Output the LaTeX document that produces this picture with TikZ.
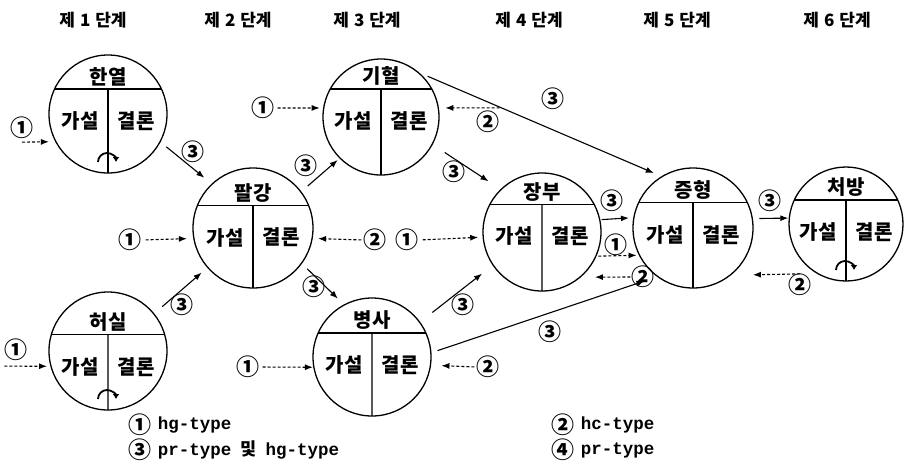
\documentclass[tikz,border=0pt]{standalone}
\usepackage{fontspec}
\setmainfont{Noto Sans CJK KR}
\newfontfamily\typefont{Liberation Mono}
\usetikzlibrary{shapes,arrows.meta,calc,positioning}

\tikzset{
  stage/.style={circle,draw,line width=1.3pt,inner sep=0pt,outer sep=0pt},
  ttl/.style={inner sep=0pt,font=\bfseries\fontsize{20}{20}\selectfont},
  steplbl/.style={inner sep=0pt,font=\bfseries\fontsize{17}{17}\selectfont},
  num/.style={inner sep=0pt,font=\bfseries\fontsize{23}{23}\selectfont},
  key/.style={inner sep=0pt,font=\bfseries\fontsize{17.5}{17.5}\selectfont},
  arr/.style={line width=1.1pt,-{Latex[length=8pt,width=6pt]}},
  darr/.style={arr,dash pattern=on 3pt off 2pt},
  curl/.style={line width=1.8pt,-{Latex[length=5pt,width=7pt]}}
}

\begin{document}
\begin{tikzpicture}[x=1pt,y=-1pt]
\useasboundingbox (0,0) rectangle (904,475);

\foreach \x/\n in {93/1,238/2,367/3,529/4,677/5,837/6}
  \node[steplbl] (s\n) at (\x,20) {제\hspace{5pt}\n\hspace{5pt}단계};

\foreach \n/\x/\y/\sz/\a/\lbl in {hy/108/114/118/25/한열, pk/253/228/120/22/팔강,
    gh/381/117/116/29/기혈, hs/108/351/118/16/허실, bs/372/357/118/24/병사,
    jb/542/232/118/28/장부, jh/693/228/120/25/증형, cb/846/224/114/25/처방}
{
  \pgfmathtruncatemacro\ang{180-\a}
  \node[stage,minimum size=\sz pt] (\n) at (\x,\y) {};
  \coordinate (\n-m) at ($(\n.\ang)!.5!(\n.\a)$);
  \draw[line width=1.3pt] (\n.\ang) -- (\n.\a);
  \draw[line width=1.3pt] (\n-m) -- (\n.south);
  \node[ttl,above=3pt] (\n-t) at (\n-m) {\lbl};
  \node[ttl] (\n-h) at ($(\n-m)+(-28,32)$) {가설};
  \node[ttl] (\n-c) at ($(\n-m)+(28,32)$) {결론};
}

\foreach \n in {hy,hs,cb}
  \draw[curl] ($(\n.south)+(-10,-11)$) arc[start angle=180,end angle=360,radius=9];

\draw[arr,shorten <=8pt,shorten >=10pt] (hy.-28) -- (pk.133);
\draw[arr,shorten <=11pt,shorten >=8pt] (hs.39) -- (pk.221);
\draw[arr,shorten <=9pt,shorten >=3pt] (pk.37) -- (gh.225);
\draw[arr,shorten <=8pt,shorten >=9pt] (pk.-36) -- (bs.118);
\draw[arr,shorten <=15pt,shorten >=15pt] (gh.-28) -- (jb.134);
\draw[arr,shorten <=11pt,shorten >=9pt] (gh.51) -- (jh.121);
\draw[arr,shorten <=16pt,shorten >=14pt] (bs.36) -- (jb.214);
\draw[arr,shorten <=7pt,shorten >=14pt] (bs.4) -- (jh.234);
\draw[arr,shorten <=2pt,shorten >=5pt] (jb.12) -- (jh.170);
\draw[arr,shorten <=7pt,shorten >=1pt] (jh.9) -- (cb.174);

\node[num] (l1) at (193,152) {③};
\node[num] (l2) at (182,305) {③};
\node[num] (l3) at (306,166) {③};
\node[num] (l4) at (314,287) {③};
\node[num] (l5) at (454,172) {③};
\node[num] (l6) at (553,99) {③};
\node[num] (l7) at (463,305) {③};
\node[num] (l8) at (550,332) {③};
\node[num] (l9) at (612,201) {③};
\node[num] (l10) at (770,201) {③};

\node[num] (i1) at (22,128) {①};
\node[num] (i2) at (16,350) {①};
\node[num] (i3) at (130,240) {①};
\node[num] (i4) at (375,240) {②};
\node[num] (i5) at (263,108) {①};
\node[num] (i6) at (488,122) {②};
\node[num] (i7) at (407,240) {①};
\node[num] (i8) at (616,245) {①};
\node[num] (i9) at (643,277) {②};
\node[num] (i10) at (800,285) {②};
\node[num] (i11) at (248,367) {①};
\node[num] (i12) at (488,367) {②};

\draw[darr,shorten >=7pt] ([yshift=-3pt]i1.south) -- (hy.208);
\draw[darr,shorten >=4pt] ([yshift=-5pt]i2.south west) -- (hs.195);
\draw[darr,shorten <=4pt,shorten >=7pt] (i3.east) -- (pk.190);
\draw[darr,shorten <=2pt,shorten >=6pt] (i4.west) -- (pk.-10);
\draw[darr,shorten <=3pt,shorten >=4pt] (i5.east) -- (gh.171);
\draw[darr,shorten >=7pt] ([yshift=3pt]i6.north east) -- (gh.9);
\draw[darr,shorten <=4pt,shorten >=5pt] (i7.east) -- (jb.185);
\draw[darr,shorten >=3pt] ([xshift=-6pt]i8.south west) -- (jh.207);
\draw[darr,shorten <=1pt,shorten >=15pt] (i9.west) -- (jb.-50);
\draw[darr,shorten >=23pt] (i10.north) -- (jh.-52);
\draw[darr,shorten <=3pt,shorten >=1pt] (i11.east) -- (bs.190);
\draw[darr,shorten <=2pt,shorten >=11pt] (i12.west) -- (bs.-8);

\node[num] (k1) at (140,425) {①};
\node[key,right=6pt of k1] (k1t) {\typefont hg-type};
\node[num] (k2) at (563,425) {②};
\node[key,right=6pt of k2] (k2t) {\typefont hc-type};
\node[num] (k3) at (140,450) {③};
\node[key,right=6pt of k3] (k3t) {{\typefont pr-type}\hspace{9pt}및\hspace{9pt}{\typefont hg-type}};
\node[num] (k4) at (563,450) {④};
\node[key,right=6pt of k4] (k4t) {\typefont pr-type};

\end{tikzpicture}
\end{document}
